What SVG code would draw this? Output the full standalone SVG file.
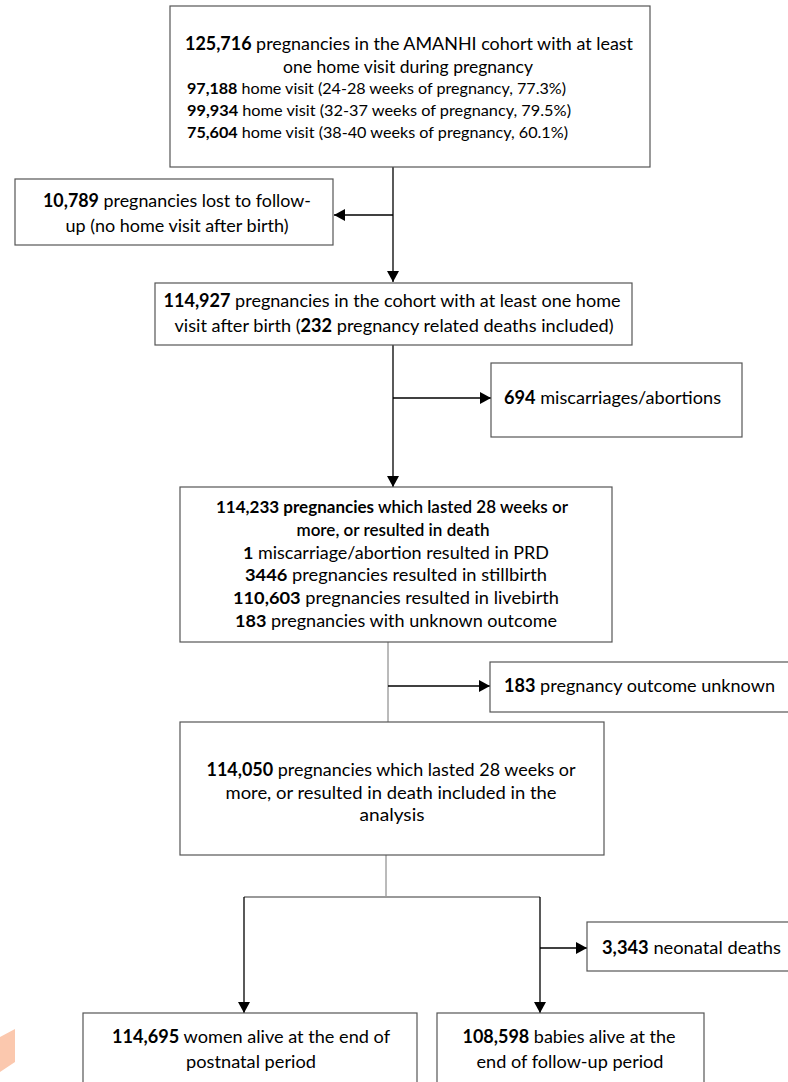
<svg xmlns="http://www.w3.org/2000/svg" width="788" height="1082" viewBox="0 0 788 1082">
<defs>
<marker id="arr" markerUnits="userSpaceOnUse" markerWidth="12" markerHeight="12" refX="11" refY="6" orient="auto">
<path d="M0,0 L11,6 L0,12 z" fill="#000"/>
</marker>
<style>
.box{fill:#fff;stroke:#555;stroke-width:1.2}
.t{font-family:Lato,"Open Sans","Liberation Sans",sans-serif;font-size:18px;fill:#000}
.s{font-size:16px}
.k{font-size:17px}
.m{text-anchor:middle}
.b{font-weight:bold}
.sb{font-weight:600}
.c{stroke:#000;stroke-width:1.3;fill:none}
.g{stroke:#777;stroke-width:1;fill:none}
.gh{stroke:#999;stroke-width:2;fill:none}
</style>
</defs>
<rect width="788" height="1082" fill="#fff"/>
<polygon points="0,1037 15,1029 15,1062 0,1072" fill="#fbc8ae"/>

<g id="connectors">
<line class="c" x1="393" y1="167" x2="393" y2="282" marker-end="url(#arr)"/>
<line class="c" x1="393" y1="215" x2="334" y2="215" marker-end="url(#arr)"/>
<line class="c" x1="393" y1="345" x2="393" y2="487" marker-end="url(#arr)"/>
<line class="c" x1="393" y1="398" x2="491" y2="398" marker-end="url(#arr)"/>
<line class="g" x1="388" y1="642" x2="388" y2="722"/>
<line class="c" x1="388" y1="686" x2="490" y2="686" marker-end="url(#arr)"/>
<line class="g" x1="386" y1="855" x2="386" y2="897"/>
<line class="gh" x1="244" y1="897" x2="540" y2="897"/>
<line class="c" x1="244" y1="897" x2="244" y2="1013" marker-end="url(#arr)"/>
<line class="c" x1="540" y1="897" x2="540" y2="1013" marker-end="url(#arr)"/>
<line class="c" x1="540" y1="948" x2="587" y2="948" marker-end="url(#arr)"/>
</g>

<g id="n1">
<rect class="box" x="170" y="6" width="480" height="161"/>
<text class="t m" x="409" y="50" textLength="448" lengthAdjust="spacingAndGlyphs"><tspan class="b">125,716</tspan> pregnancies in the AMANHI cohort with at least</text>
<text class="t m" x="408" y="73" textLength="250" lengthAdjust="spacingAndGlyphs">one home visit during pregnancy</text>
<text class="t s" x="187" y="94" textLength="379" lengthAdjust="spacingAndGlyphs"><tspan class="b">97,188</tspan> home visit (24-28 weeks of pregnancy, 77.3%)</text>
<text class="t s" x="187" y="116" textLength="384" lengthAdjust="spacingAndGlyphs"><tspan class="b">99,934</tspan> home visit (32-37 weeks of pregnancy, 79.5%)</text>
<text class="t s" x="187" y="138" textLength="381" lengthAdjust="spacingAndGlyphs"><tspan class="b">75,604</tspan> home visit (38-40 weeks of pregnancy, 60.1%)</text>
</g>

<g id="n2">
<rect class="box" x="15" y="179" width="318" height="66"/>
<text class="t m" x="177" y="207" textLength="268" lengthAdjust="spacingAndGlyphs"><tspan class="b">10,789</tspan> pregnancies lost to follow-</text>
<text class="t m" x="177" y="232" textLength="223" lengthAdjust="spacingAndGlyphs">up (no home visit after birth)</text>
</g>

<g id="n3">
<rect class="box" x="155" y="283" width="477" height="62"/>
<text class="t m" x="392" y="307" textLength="457" lengthAdjust="spacingAndGlyphs"><tspan class="b">114,927</tspan> pregnancies in the cohort with at least one home</text>
<text class="t m" x="394" y="332" textLength="439" lengthAdjust="spacingAndGlyphs">visit after birth (<tspan class="b">232</tspan> pregnancy related deaths included)</text>
</g>

<g id="n4">
<rect class="box" x="491" y="363" width="251" height="74"/>
<text class="t" x="504" y="404" textLength="217" lengthAdjust="spacingAndGlyphs"><tspan class="b">694</tspan> miscarriages/abortions</text>
</g>

<g id="n5">
<rect class="box" x="180" y="487" width="432" height="155"/>
<text class="t k m sb" x="392" y="513" textLength="352" lengthAdjust="spacingAndGlyphs"><tspan class="b">114,233 pregnancies</tspan> which lasted 28 weeks or</text>
<text class="t k m sb" x="393" y="536" textLength="193" lengthAdjust="spacingAndGlyphs">more, or resulted in death</text>
<text class="t k m" x="396" y="559" textLength="306" lengthAdjust="spacingAndGlyphs"><tspan class="b">1</tspan> miscarriage/abortion resulted in PRD</text>
<text class="t k m" x="396" y="581" textLength="302" lengthAdjust="spacingAndGlyphs"><tspan class="b">3446</tspan> pregnancies resulted in stillbirth</text>
<text class="t k m" x="396" y="604" textLength="326" lengthAdjust="spacingAndGlyphs"><tspan class="b">110,603</tspan> pregnancies resulted in livebirth</text>
<text class="t k m" x="396" y="627" textLength="322" lengthAdjust="spacingAndGlyphs"><tspan class="b">183</tspan> pregnancies with unknown outcome</text>
</g>

<g id="n6">
<rect class="box" x="490" y="662" width="300" height="50"/>
<text class="t" x="504" y="692" textLength="271" lengthAdjust="spacingAndGlyphs"><tspan class="b">183</tspan> pregnancy outcome unknown</text>
</g>

<g id="n7">
<rect class="box" x="180" y="722" width="424" height="133"/>
<text class="t m" x="391" y="776" textLength="369" lengthAdjust="spacingAndGlyphs"><tspan class="b">114,050</tspan> pregnancies which lasted 28 weeks or</text>
<text class="t m" x="391" y="799" textLength="331" lengthAdjust="spacingAndGlyphs">more, or resulted in death included in the</text>
<text class="t m" x="392" y="821" textLength="65" lengthAdjust="spacingAndGlyphs">analysis</text>
</g>

<g id="n8">
<rect class="box" x="587" y="922" width="203" height="49"/>
<text class="t" x="602" y="954" textLength="179" lengthAdjust="spacingAndGlyphs"><tspan class="b">3,343</tspan> neonatal deaths</text>
</g>

<g id="n9">
<rect class="box" x="83" y="1013" width="334" height="80"/>
<text class="t m" x="251" y="1043" textLength="278" lengthAdjust="spacingAndGlyphs"><tspan class="b">114,695</tspan> women alive at the end of</text>
<text class="t m" x="251" y="1068" textLength="130" lengthAdjust="spacingAndGlyphs">postnatal period</text>
</g>

<g id="n10">
<rect class="box" x="437" y="1013" width="267" height="80"/>
<text class="t m" x="569" y="1043" textLength="213" lengthAdjust="spacingAndGlyphs"><tspan class="b">108,598</tspan> babies alive at the</text>
<text class="t m" x="570" y="1068" textLength="187" lengthAdjust="spacingAndGlyphs">end of follow-up period</text>
</g>
</svg>
